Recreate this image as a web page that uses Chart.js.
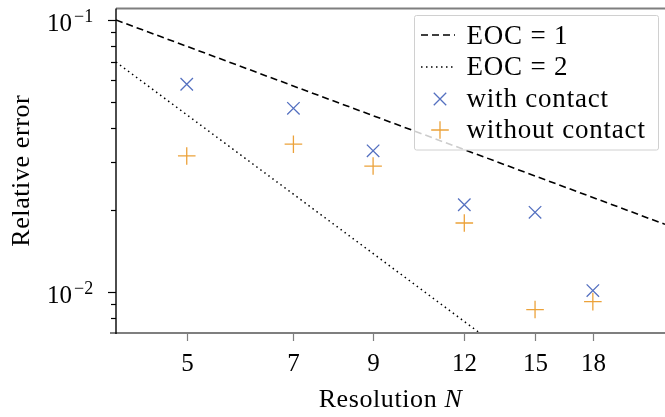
<!DOCTYPE html>
<html><head><meta charset="utf-8">
<script src="https://cdn.jsdelivr.net/npm/chart.js@4/dist/chart.umd.min.js"></script>
<style>html,body{margin:0;padding:0;background:#fff;}#wrap{width:665px;height:417px;}</style>
</head><body><div id="wrap"><canvas id="c" width="665" height="417"></canvas></div>
<script>
// ---- data ----
const resolutions = [5, 7, 9, 12, 15, 18];
const withContact = [0.0580, 0.0473, 0.0330, 0.0209, 0.0196, 0.0101];
const withoutContact = [0.0316, 0.0349, 0.0290, 0.0179, 0.0086, 0.0092];
const eoc1X = [4, 22.6];
const eoc1Y = [0.100, 0.0177];
const eoc2X = [4, 14];
const eoc2Y = [0.070, 0.00571];
const xTickValues = [5, 7, 9, 12, 15, 18];
const xTickLabels = ['5', '7', '9', '12', '15', '18'];
const yMajorValues = [0.01, 0.1];
const yMajorExponents = ['\u22122', '\u22121'];
const yMinorValues = [0.008, 0.009, 0.02, 0.03, 0.04, 0.05, 0.06, 0.07, 0.08, 0.09];
const legendLabels = ['EOC = 1', 'EOC = 2', 'with contact', 'without contact'];
const xTitle = 'Resolution ';
const xTitleItalic = 'N';
const yTitle = 'Relative error';

const BLUE = '#5470c0';
const ORANGE = '#eca23a';
const FONT = '"Liberation Serif", "DejaVu Serif", serif';

const pts = (xs, ys) => xs.map((x, i) => ({x: x, y: ys[i]}));

function setSpacing(ctx, px) { if ('letterSpacing' in ctx) ctx.letterSpacing = px + 'px'; }

const decor = {
  id: 'decor',
  afterDatasetsDraw(chart) {
    const ctx = chart.ctx, a = chart.chartArea;
    const xs = chart.scales.x, ys = chart.scales.y;
    ctx.save();
    // spines
    ctx.lineCap = 'butt';
    ctx.strokeStyle = '#7f7f7f'; ctx.lineWidth = 1.8;
    ctx.beginPath(); ctx.moveTo(a.left - 6, a.bottom); ctx.lineTo(a.right, a.bottom); ctx.stroke();
    ctx.beginPath(); ctx.moveTo(a.left, a.top); ctx.lineTo(a.right, a.top); ctx.stroke();
    ctx.strokeStyle = '#000'; ctx.lineWidth = 1.4;
    ctx.beginPath(); ctx.moveTo(a.left, a.top); ctx.lineTo(a.left, a.bottom + 1); ctx.stroke();
    // x ticks + labels
    ctx.strokeStyle = '#7f7f7f'; ctx.lineWidth = 1.2;
    ctx.fillStyle = '#000';
    ctx.font = '25px ' + FONT; ctx.textAlign = 'center'; ctx.textBaseline = 'alphabetic';
    xTickValues.forEach((v, i) => {
      const px = Math.round(xs.getPixelForValue(v)) + 0.5;
      ctx.beginPath(); ctx.moveTo(px, a.bottom); ctx.lineTo(px, a.bottom + 8); ctx.stroke();
      ctx.fillText(xTickLabels[i], px, a.bottom + 38);
    });
    // y ticks
    ctx.strokeStyle = '#000'; ctx.lineWidth = 1.2;
    yMajorValues.forEach(v => {
      const py = Math.round(ys.getPixelForValue(v)) + 0.5;
      ctx.beginPath(); ctx.moveTo(a.left - 8, py); ctx.lineTo(a.left, py); ctx.stroke();
    });
    yMinorValues.forEach(v => {
      const py = Math.round(ys.getPixelForValue(v)) + 0.5;
      ctx.beginPath(); ctx.moveTo(a.left - 5, py); ctx.lineTo(a.left, py); ctx.stroke();
    });
    // y labels 10^e
    yMajorValues.forEach((v, i) => {
      const py = ys.getPixelForValue(v);
      ctx.textAlign = 'left';
      ctx.font = '18px ' + FONT;
      ctx.fillText(yMajorExponents[i], 74, py + 2);
      ctx.textAlign = 'right';
      ctx.font = '25px ' + FONT;
      ctx.fillText('10', 72, py + 11.5);
    });
    // axis titles
    ctx.font = '26px ' + FONT; setSpacing(ctx, 0.6);
    ctx.textAlign = 'left';
    const w1 = ctx.measureText(xTitle).width;
    ctx.font = 'italic 26px ' + FONT;
    const w2 = ctx.measureText(xTitleItalic).width;
    const cx = (a.left + a.right) / 2;
    const sx = cx - (w1 + w2) / 2;
    ctx.font = '26px ' + FONT;
    ctx.fillText(xTitle, sx, 406.5);
    ctx.font = 'italic 26px ' + FONT;
    ctx.fillText(xTitleItalic, sx + w1, 406.5);
    ctx.save();
    ctx.translate(29, (a.top + a.bottom) / 2);
    ctx.rotate(-Math.PI / 2);
    ctx.font = '26px ' + FONT; ctx.textAlign = 'center';
    ctx.fillText(yTitle, 0, 0);
    ctx.restore();
    setSpacing(ctx, 0);
    // legend
    const lx = 414.5, ly = 15.5, lw = 244, lh = 134.5;
    ctx.fillStyle = 'rgba(255,255,255,0.8)';
    ctx.strokeStyle = '#d0d0d0'; ctx.lineWidth = 1;
    ctx.beginPath();
    if (ctx.roundRect) ctx.roundRect(lx, ly, lw, lh, 2); else ctx.rect(lx, ly, lw, lh);
    ctx.fill(); ctx.stroke();
    const rows = [35, 67, 99, 130];
    const bases = [43.5, 75, 106.5, 138];
    ctx.strokeStyle = '#000';
    ctx.lineWidth = 1.6; ctx.setLineDash([7, 4]);
    ctx.beginPath(); ctx.moveTo(421, rows[0]); ctx.lineTo(455, rows[0]); ctx.stroke();
    ctx.lineWidth = 1.5; ctx.setLineDash([1.5, 3.5]);
    ctx.beginPath(); ctx.moveTo(421, rows[1]); ctx.lineTo(455, rows[1]); ctx.stroke();
    ctx.setLineDash([]);
    const r = 8.8;
    ctx.lineWidth = 1.3;
    ctx.strokeStyle = BLUE;
    const d = r * Math.SQRT1_2;
    ctx.beginPath();
    ctx.moveTo(440 - d, rows[2] - d); ctx.lineTo(440 + d, rows[2] + d);
    ctx.moveTo(440 - d, rows[2] + d); ctx.lineTo(440 + d, rows[2] - d);
    ctx.stroke();
    ctx.strokeStyle = ORANGE;
    ctx.beginPath();
    ctx.moveTo(440 - r, rows[3]); ctx.lineTo(440 + r, rows[3]);
    ctx.moveTo(440, rows[3] - r); ctx.lineTo(440, rows[3] + r);
    ctx.stroke();
    ctx.fillStyle = '#000';
    ctx.font = '27px ' + FONT; ctx.textAlign = 'left'; setSpacing(ctx, 0.8);
    legendLabels.forEach((t, i) => ctx.fillText(t, 466.5, bases[i]));
    setSpacing(ctx, 0);
    ctx.restore();
  }
};

new Chart(document.getElementById('c'), {
  type: 'scatter',
  data: {
    datasets: [
      {label: legendLabels[0], data: pts(eoc1X, eoc1Y), showLine: true, borderColor: '#000', borderWidth: 1.6, borderDash: [7, 4], pointRadius: 0, fill: false},
      {label: legendLabels[1], data: pts(eoc2X, eoc2Y), showLine: true, borderColor: '#000', borderWidth: 1.5, borderDash: [1.5, 3.5], pointRadius: 0, fill: false},
      {label: legendLabels[2], data: pts(resolutions, withContact), pointStyle: 'crossRot', pointRadius: 8.8, pointBorderWidth: 1.3, borderColor: BLUE, backgroundColor: BLUE},
      {label: legendLabels[3], data: pts(resolutions, withoutContact), pointStyle: 'cross', pointRadius: 8.8, pointBorderWidth: 1.3, borderColor: ORANGE, backgroundColor: ORANGE}
    ]
  },
  options: {
    responsive: false, animation: false, devicePixelRatio: 1,
    layout: {autoPadding: false, padding: {left: 116, top: 8.5, right: 0, bottom: 84}},
    plugins: {legend: {display: false}, tooltip: {enabled: false}},
    scales: {
      x: {type: 'logarithmic', min: 4, max: 22.6, display: false},
      y: {type: 'logarithmic', min: 0.00705, max: 0.1102, display: false}
    }
  },
  plugins: [decor]
});
</script></body></html>
